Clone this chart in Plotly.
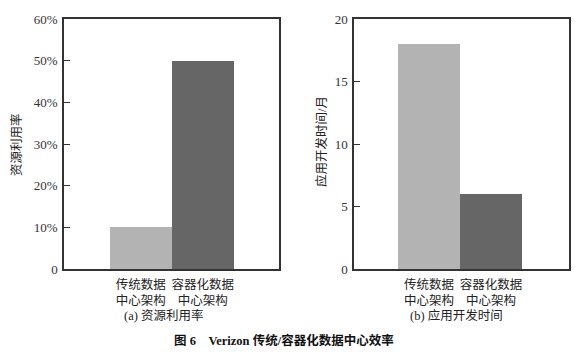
import plotly.graph_objects as go

categories = ["传统数据<br>中心架构", "容器化数据<br>中心架构"]
utilization = [0.10, 0.50]          # (a) 资源利用率
dev_time = [18, 6]                  # (b) 应用开发时间/月
bar_colors = ["#b3b3b3", "#666666"]
util_ticks = [0, 0.1, 0.2, 0.3, 0.4, 0.5, 0.6]
util_ticktext = ["0", "10%", "20%", "30%", "40%", "50%", "60%"]
time_ticks = [0, 5, 10, 15, 20]

W, H = 582, 352
FONT = "Liberation Serif, Noto Sans CJK SC, serif"
TXT = "#222222"

fig = go.Figure()
xs = list(range(len(categories)))
fig.add_trace(go.Bar(x=xs, y=utilization, marker=dict(color=bar_colors, line=dict(width=0)),
                     width=1, xaxis="x", yaxis="y", showlegend=False))
fig.add_trace(go.Bar(x=xs, y=dev_time, marker=dict(color=bar_colors, line=dict(width=0)),
                     width=1, xaxis="x2", yaxis="y2", showlegend=False))

def px_x(p):
    return p / W

def px_y(p):
    return 1 - p / H

ydom = [px_y(269), px_y(19)]
axcommon = dict(showline=True, linecolor="#333333", linewidth=1.5, mirror=True,
                showgrid=False, zeroline=False, automargin=False)
ytickfont = dict(family=FONT, size=13, color="#333333")
xtickfont = dict(family=FONT, size=12.5, color=TXT)

fig.update_layout(
    width=W, height=H, margin=dict(l=0, r=0, t=0, b=0, pad=0, autoexpand=False),
    paper_bgcolor="white", plot_bgcolor="white", bargap=0,
    xaxis=dict(domain=[px_x(64), px_x(279)], range=[-1.24, 2.23], anchor="y",
               tickvals=xs, ticktext=categories, ticks="", ticklabelstandoff=3,
               tickfont=xtickfont, **axcommon),
    yaxis=dict(domain=ydom, range=[0, 0.6], anchor="x", tickvals=util_ticks,
               ticktext=util_ticktext, ticks="inside", ticklen=6, tickcolor="#333333",
               ticklabelstandoff=2, tickfont=ytickfont, **axcommon),
    xaxis2=dict(domain=[px_x(354), px_x(569)], range=[-1.21, 2.26], anchor="y2",
                tickvals=xs, ticktext=categories, ticks="", ticklabelstandoff=3,
                tickfont=xtickfont, **axcommon),
    yaxis2=dict(domain=ydom, range=[0, 20], anchor="x2", tickvals=time_ticks,
                ticks="inside", ticklen=6, tickcolor="#333333", ticklabelstandoff=2,
                tickfont=ytickfont, **axcommon),
)

ann_font = dict(family=FONT, size=12.5, color=TXT)
fig.add_annotation(x=px_x(164), y=px_y(315), xref="paper", yref="paper", text="(a) 资源利用率",
                   showarrow=False, font=ann_font, xanchor="center", yanchor="middle")
fig.add_annotation(x=px_x(456), y=px_y(315), xref="paper", yref="paper", text="(b) 应用开发时间",
                   showarrow=False, font=ann_font, xanchor="center", yanchor="middle")
fig.add_annotation(x=px_x(17), y=px_y(145), xref="paper", yref="paper", text="资源利用率",
                   textangle=-90, showarrow=False, font=ann_font, xanchor="center", yanchor="middle")
fig.add_annotation(x=px_x(322), y=px_y(142), xref="paper", yref="paper", text="应用开发时间/月",
                   textangle=-90, showarrow=False, font=ann_font, xanchor="center", yanchor="middle")
fig.add_annotation(x=px_x(172), y=px_y(340), xref="paper", yref="paper",
                   text="<b>图 6&nbsp;&nbsp;&nbsp;&nbsp;Verizon 传统/容器化数据中心效率</b>",
                   showarrow=False, font=dict(family=FONT, size=12.5, color="#111111"),
                   xanchor="left", yanchor="middle")

fig.write_html("out.html")
